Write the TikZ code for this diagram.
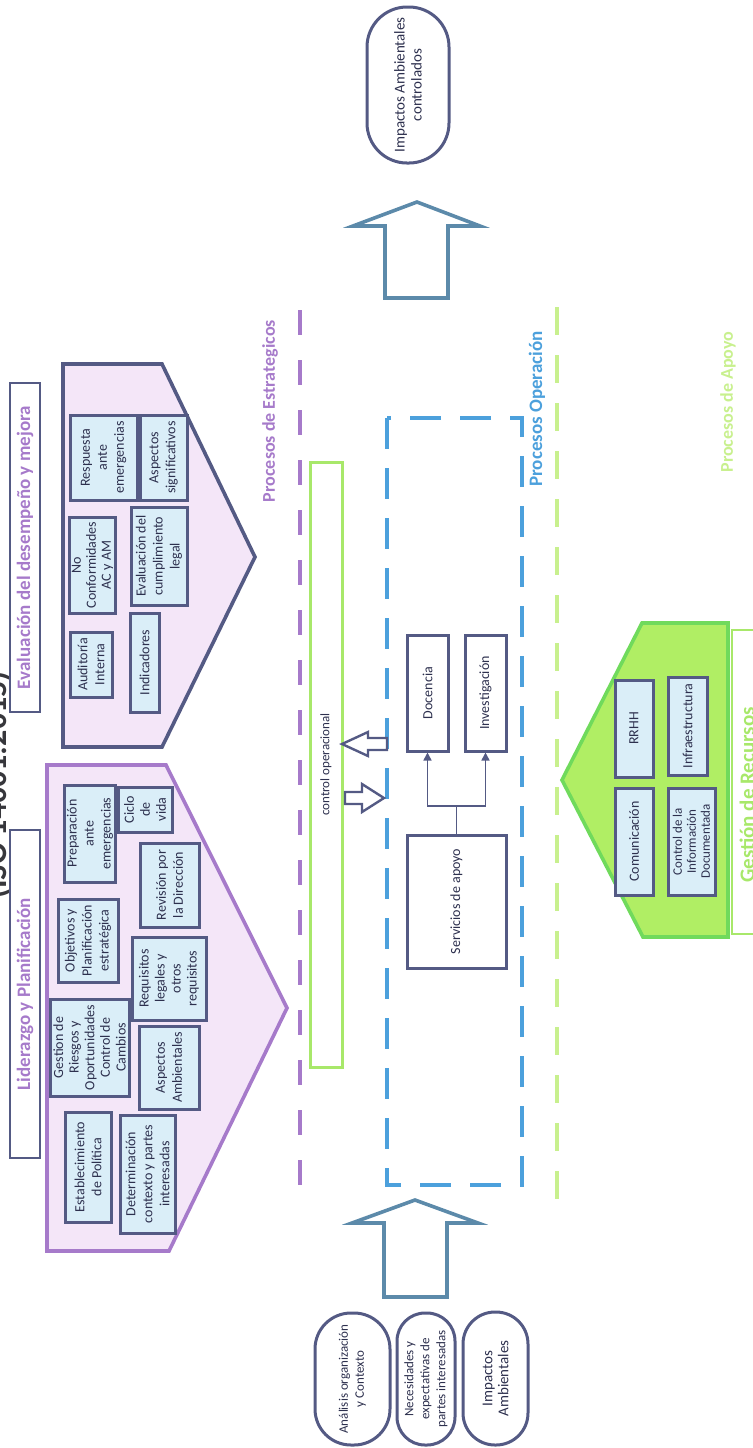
\documentclass[tikz,border=0pt]{standalone}
\usepackage{fontspec}
\setmainfont{Carlito}
\usetikzlibrary{arrows.meta}
\definecolor{lidpurple}{RGB}{166,122,202}
\definecolor{evalnavy}{RGB}{84,90,132}
\definecolor{boxblue}{RGB}{218,238,248}
\definecolor{lavender}{RGB}{244,230,248}
\definecolor{opblue}{RGB}{76,160,220}
\definecolor{apoyogreen}{RGB}{200,240,142}
\definecolor{ctrlgreen}{RGB}{168,232,106}
\definecolor{steelblue}{RGB}{92,138,170}
\definecolor{recgreen}{RGB}{176,238,100}
\definecolor{recdark}{RGB}{112,218,92}
\definecolor{boxtext}{RGB}{45,48,78}
\definecolor{isogray}{RGB}{55,55,60}

\begin{document}
\begin{tikzpicture}[x=0.5pt, y=-0.5pt,
  smallbox/.style={draw=evalnavy, line width=1.5pt, fill=boxblue, rotate=90, align=center, inner sep=1pt, text=boxtext, font=\fontsize{7}{8.5}\selectfont},
  opbox/.style={smallbox, fill=white},
  stadium/.style={draw=evalnavy, line width=1.5pt, fill=white, rotate=90, align=center, inner sep=1pt, text=boxtext, rounded corners=#1},
  titlebox/.style={draw=evalnavy, line width=0.6pt, rotate=90, text=lidpurple, font=\fontsize{9.5}{10}\selectfont\bfseries},
  grouplabel/.style={rotate=90, font=\fontsize{9}{10}\selectfont\bfseries},
  bigarrow/.style={draw=steelblue, line width=1.8pt, fill=white},
  ctrlarrow/.style={draw=evalnavy, line width=1.2pt, fill=white},
  link/.style={draw=evalnavy, line width=0.8pt}]
\useasboundingbox (0,0) rectangle (753,1448);

\filldraw[fill=lavender, draw=lidpurple, line width=1.8pt] (47,765) -- (166,765) -- (287,1008) -- (169,1251) -- (47,1251) -- cycle;
\filldraw[fill=lavender, draw=evalnavy, line width=1.8pt] (63,364) -- (162,364) -- (255,557) -- (162,747) -- (63,747) -- cycle;
\filldraw[fill=recgreen, draw=recdark, line width=1.8pt] (728,623) -- (642,623) -- (562,780) -- (643,937) -- (728,937) -- cycle;
\draw[ctrlgreen, line width=0.6pt] (760,630) -- (732,630) -- (732,934) -- (760,934);

\draw[lidpurple, line width=2pt, dash pattern=on 12.5pt off 12.5pt] (300,310) -- (300,1202);
\draw[apoyogreen, line width=1.6pt, dash pattern=on 14pt off 10pt] (557,307) -- (557,1202);
\draw[opblue, line width=2pt, dash pattern=on 15.5pt off 9.5pt] (387,418) rectangle (522,1185);

\node[rotate=90, text=isogray, font=\fontsize{16}{18}\selectfont\bfseries] (isotitle) at (-3,785) {(ISO 14001:2015)};
\node[titlebox, minimum width=164pt, minimum height=15pt] (lidtitle) at (25,994) {Liderazgo y Planificación};
\node[titlebox, minimum width=164.5pt, minimum height=15pt] (evaltitle) at (25,547.5) {Evaluación del desempeño y mejora};

\node[smallbox, minimum width=48.5pt, minimum height=25pt] (prep) at (90,833.5) {Preparación\\ante\\emergencias};
\node[smallbox, minimum width=22.5pt, minimum height=27pt, font=\fontsize{7}{8}\selectfont] (ciclo) at (145,809.5) {Ciclo\\de\\vida};
\node[smallbox, minimum width=41.5pt, minimum height=30pt] (obj) at (88,940.5) {Objetivos y\\Planificación\\estratégica};
\node[smallbox, minimum width=42pt, minimum height=29.5pt] (rev) at (169.5,885) {Revisión por\\la Dirección};
\node[smallbox, minimum width=41.5pt, minimum height=37pt, font=\fontsize{7}{8}\selectfont] (req) at (169,978.5) {Requisitos\\legales y\\otros\\requisitos};
\node[smallbox, minimum width=48.5pt, minimum height=39.5pt, font=\fontsize{7}{7.8}\selectfont] (riesgo) at (89.5,1047.5) {Gestion de\\Riesgos y\\Oportunidades\\Control de\\Cambios};
\node[smallbox, minimum width=41.5pt, minimum height=30pt] (aspamb) at (169,1067.5) {Aspectos\\Ambientales};
\node[smallbox, minimum width=55pt, minimum height=23pt] (estab) at (88,1167) {Establecimiento\\de Política};
\node[smallbox, minimum width=59pt, minimum height=27.5pt] (det) at (147.5,1174) {Determinación\\contexto y partes\\interesadas};

\node[smallbox, minimum width=42.5pt, minimum height=33.5pt] (resp) at (103.5,457.5) {Respuesta\\ante\\emergencias};
\node[smallbox, minimum width=42.5pt, minimum height=23.5pt] (signif) at (163.5,457.5) {Aspectos\\significativos};
\node[smallbox, minimum width=48pt, minimum height=22.5pt, font=\fontsize{7}{7.5}\selectfont] (nc) at (92.5,565) {No\\Conformidades\\AC y AM};
\node[smallbox, minimum width=49pt, minimum height=28pt] (evcl) at (159,556) {Evaluación del\\cumplimiento\\legal};
\node[smallbox, minimum width=32.5pt, minimum height=21pt] (aud) at (91,664.5) {Auditoría\\Interna};
\node[smallbox, minimum width=49.5pt, minimum height=14.5pt] (ind) at (144.5,662.5) {Indicadores};

\node[smallbox, minimum width=48.5pt, minimum height=19pt] (rrhh) at (634,728.5) {RRHH};
\node[smallbox, minimum width=49pt, minimum height=19.5pt] (infra) at (687.5,726) {Infraestructura};
\node[smallbox, minimum width=53.5pt, minimum height=19pt] (com) at (634,841.5) {Comunicación};
\node[smallbox, minimum width=53.5pt, minimum height=23.5pt, font=\fontsize{6.5}{7}\selectfont] (cinfo) at (691.5,841.5) {Control de la\\Información\\Documentada};

\node[rotate=90, draw=ctrlgreen, line width=1.5pt, minimum width=302.5pt, minimum height=16pt, text=boxtext, font=\fontsize{6.5}{7}\selectfont] (ctrl) at (326,764.5) {control operacional};
\node[opbox, minimum width=58pt, minimum height=20.5pt] (doc) at (427.5,693) {Docencia};
\node[opbox, minimum width=58pt, minimum height=20.5pt] (inv) at (485.5,693) {Investigación};
\node[opbox, minimum width=66.5pt, minimum height=49.5pt] (serv) at (456.5,901.5) {Servicios de apoyo};

\coordinate (fork) at (456.5,806);
\draw[link] (serv.east) -- (fork);
\draw[link, -{Triangle[length=4pt, width=4pt]}] (fork) -| (doc.west);
\draw[link, -{Triangle[length=4pt, width=4pt]}] (fork) -| (inv.west);

\filldraw[ctrlarrow] (342,744) -- (368,732) -- (368,738) -- (387,738) -- (387,750) -- (368,750) -- (368,756) -- cycle;
\filldraw[ctrlarrow] (384,798) -- (362,784) -- (362,792) -- (345,792) -- (345,804) -- (362,804) -- (362,812) -- cycle;

\filldraw[bigarrow] (417,202) -- (480,226) -- (448,226) -- (448,298) -- (385,298) -- (385,226) -- (353,226) -- cycle;
\filldraw[bigarrow] (415,1200) -- (478,1223) -- (447,1223) -- (447,1297) -- (384,1297) -- (384,1223) -- (352,1223) -- cycle;

\node[stadium=20pt, minimum width=78pt, minimum height=41pt, font=\fontsize{7.5}{8.5}\selectfont] (outimp) at (408,85) {Impactos Ambientales\\controlados};
\node[stadium=18pt, minimum width=66pt, minimum height=37.5pt, font=\fontsize{6.5}{8}\selectfont] (analisis) at (352.5,1379) {Análisis organización\\y Contexto};
\node[stadium=14pt, minimum width=66pt, minimum height=29pt, font=\fontsize{6.5}{8}\selectfont] (neces) at (426,1379) {Necesidades y\\expectativas de\\partes interesadas};
\node[stadium=16pt, minimum width=66.5pt, minimum height=32.5pt, font=\fontsize{7.5}{8}\selectfont] (impamb) at (495.5,1378.5) {Impactos\\Ambientales};

\node[grouplabel, text=lidpurple] (estrlabel) at (270,411) {Procesos de Estrategicos};
\node[grouplabel, text=opblue, font=\fontsize{9.5}{10}\selectfont\bfseries] (oplabel) at (537,409) {Procesos Operación};
\node[grouplabel, text=apoyogreen] (apoyolabel) at (728,402) {Procesos de Apoyo};
\node[grouplabel, text=ctrlgreen, font=\fontsize{10.5}{12}\selectfont\bfseries] (reclabel) at (747,795) {Gestión de Recursos};
\end{tikzpicture}
\end{document}
